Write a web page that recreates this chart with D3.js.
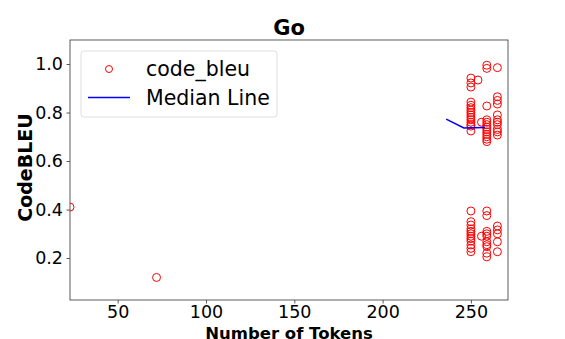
<!DOCTYPE html>
<html>
<head>
<meta charset="utf-8">
<script src="https://cdn.jsdelivr.net/npm/d3@7"></script>
<style>
  body { margin: 0; background: #fff; }
  svg { display: block; font-family: "DejaVu Sans", sans-serif; }
</style>
</head>
<body>
<div class="chart"></div>
<script>
// scatter points: number of tokens vs CodeBLEU
const tokens = [
    250, 250, 250, 250, 250, 250, 250, 250, 250, 250, 250, 250, 250, 250, 250,
    250, 250, 250, 250, 250, 250, 250, 250, 250, 250, 250, 250,
    259, 259, 259, 259, 259, 259, 259, 259, 259, 259, 259, 259, 259,
    259, 259, 259, 259, 259, 259, 259, 259, 259, 259,
    265, 265, 265, 265, 265, 265, 265, 265, 265, 265, 265,
    265, 265, 265, 265, 265,
    254, 256, 256, 23, 72
];
const codeBleu = [
    0.942, 0.922, 0.905, 0.843, 0.83, 0.82, 0.81, 0.80, 0.79, 0.78, 0.77, 0.76, 0.75, 0.744, 0.724,
    0.394, 0.35, 0.336, 0.32, 0.31, 0.30, 0.29, 0.28, 0.27, 0.254, 0.24, 0.226,
    0.995, 0.982, 0.827, 0.77, 0.76, 0.75, 0.74, 0.73, 0.72, 0.71, 0.70, 0.69, 0.68,
    0.394, 0.375, 0.31, 0.30, 0.29, 0.267, 0.255, 0.247, 0.22, 0.205,
    0.985, 0.865, 0.85, 0.835, 0.79, 0.77, 0.76, 0.75, 0.73, 0.72, 0.707,
    0.332, 0.316, 0.30, 0.267, 0.226,
    0.934, 0.76, 0.29, 0.41, 0.12
];

// median line
const medianTokens = [236, 246, 258];
const medianBleu = [0.773, 0.736, 0.738];

const xTicks = [50, 100, 150, 200, 250];
const yTicks = [0.2, 0.4, 0.6, 0.8, 1.0];

const W = 565, H = 339;
const margin = {top: 40, right: 57, bottom: 39, left: 70};
const width = W - margin.left - margin.right;
const height = H - margin.top - margin.bottom;

const svg = d3.select('.chart')
    .append('svg')
    .attr('width', W)
    .attr('height', H);

const g = svg.append('g')
    .attr('transform', 'translate(' + margin.left + ',' + margin.top + ')');

const xScale = d3.scaleLinear().domain([23, 271]).range([0, width]);
const yScale = d3.scaleLinear().domain([0.027, 1.099]).range([height, 0]);

svg.append('defs').append('clipPath')
    .attr('id', 'plotclip')
    .append('rect')
    .attr('width', width)
    .attr('height', height);

// axes
const xAxis = g.append('g')
    .attr('transform', 'translate(0,' + height + ')')
    .call(d3.axisBottom(xScale).tickValues(xTicks).tickSize(3.5).tickPadding(2.5).tickFormat(d3.format('d')));
const yAxis = g.append('g')
    .call(d3.axisLeft(yScale).tickValues(yTicks).tickSize(3.5).tickPadding(3.5).tickFormat(d3.format('.1f')));

[xAxis, yAxis].forEach(function(a){
    a.select('.domain').remove();
    a.selectAll('line').attr('stroke', '#333').attr('stroke-width', 0.8);
    a.selectAll('text')
        .attr('fill', '#000')
        .style('font-size', '17.5px')
        .style('font-family', '"DejaVu Sans", sans-serif');
});

// frame
g.append('rect')
    .attr('width', width)
    .attr('height', height)
    .attr('fill', 'none')
    .attr('stroke', '#333')
    .attr('stroke-width', 0.8);

const data = tokens.map(function(t, i){ return {x: t, y: codeBleu[i]}; });

// points
g.append('g')
    .attr('clip-path', 'url(#plotclip)')
    .selectAll('.dot')
    .data(data)
    .enter()
    .append('circle')
    .attr('class', 'dot')
    .attr('cx', function(d){ return xScale(d.x); })
    .attr('cy', function(d){ return yScale(d.y); })
    .attr('r', 4)
    .attr('fill', 'none')
    .attr('stroke', 'red')
    .attr('stroke-width', 1);

// median line
const medData = medianTokens.map(function(t, i){ return [t, medianBleu[i]]; });
g.append('path')
    .datum(medData)
    .attr('fill', 'none')
    .attr('stroke', 'blue')
    .attr('stroke-width', 1.5)
    .attr('d', d3.line()
        .x(function(d){ return xScale(d[0]); })
        .y(function(d){ return yScale(d[1]); }));

// title and labels
svg.append('text')
    .attr('x', margin.left + width / 2)
    .attr('y', 35)
    .attr('text-anchor', 'middle')
    .style('font-size', '21px')
    .style('font-weight', 'bold')
    .text('Go');

svg.append('text')
    .attr('x', margin.left + width / 2)
    .attr('y', 339)
    .attr('text-anchor', 'middle')
    .style('font-size', '16.5px')
    .style('font-weight', 'bold')
    .text('Number of Tokens');

svg.append('text')
    .attr('transform', 'translate(32,' + 167.5 + ') rotate(-90)')
    .attr('text-anchor', 'middle')
    .style('font-size', '19px')
    .style('font-weight', 'bold')
    .text('CodeBLEU');

// legend
const legend = svg.append('g').attr('transform', 'translate(81,51)');
legend.append('rect')
    .attr('width', 196)
    .attr('height', 66)
    .attr('rx', 3)
    .attr('fill', 'white')
    .attr('fill-opacity', 0.8)
    .attr('stroke', '#d6d6d6')
    .attr('stroke-width', 0.8);
legend.append('circle')
    .attr('cx', 28)
    .attr('cy', 18)
    .attr('r', 3.5)
    .attr('fill', 'none')
    .attr('stroke', 'red');
legend.append('text')
    .attr('x', 65)
    .attr('y', 24.5)
    .style('font-size', '20.5px')
    .text('code_bleu');
legend.append('line')
    .attr('x1', 7).attr('x2', 49)
    .attr('y1', 46.5).attr('y2', 46.5)
    .attr('stroke', 'blue')
    .attr('stroke-width', 1.5);
legend.append('text')
    .attr('x', 65)
    .attr('y', 54)
    .style('font-size', '20.5px')
    .text('Median Line');
</script>
</body>
</html>
